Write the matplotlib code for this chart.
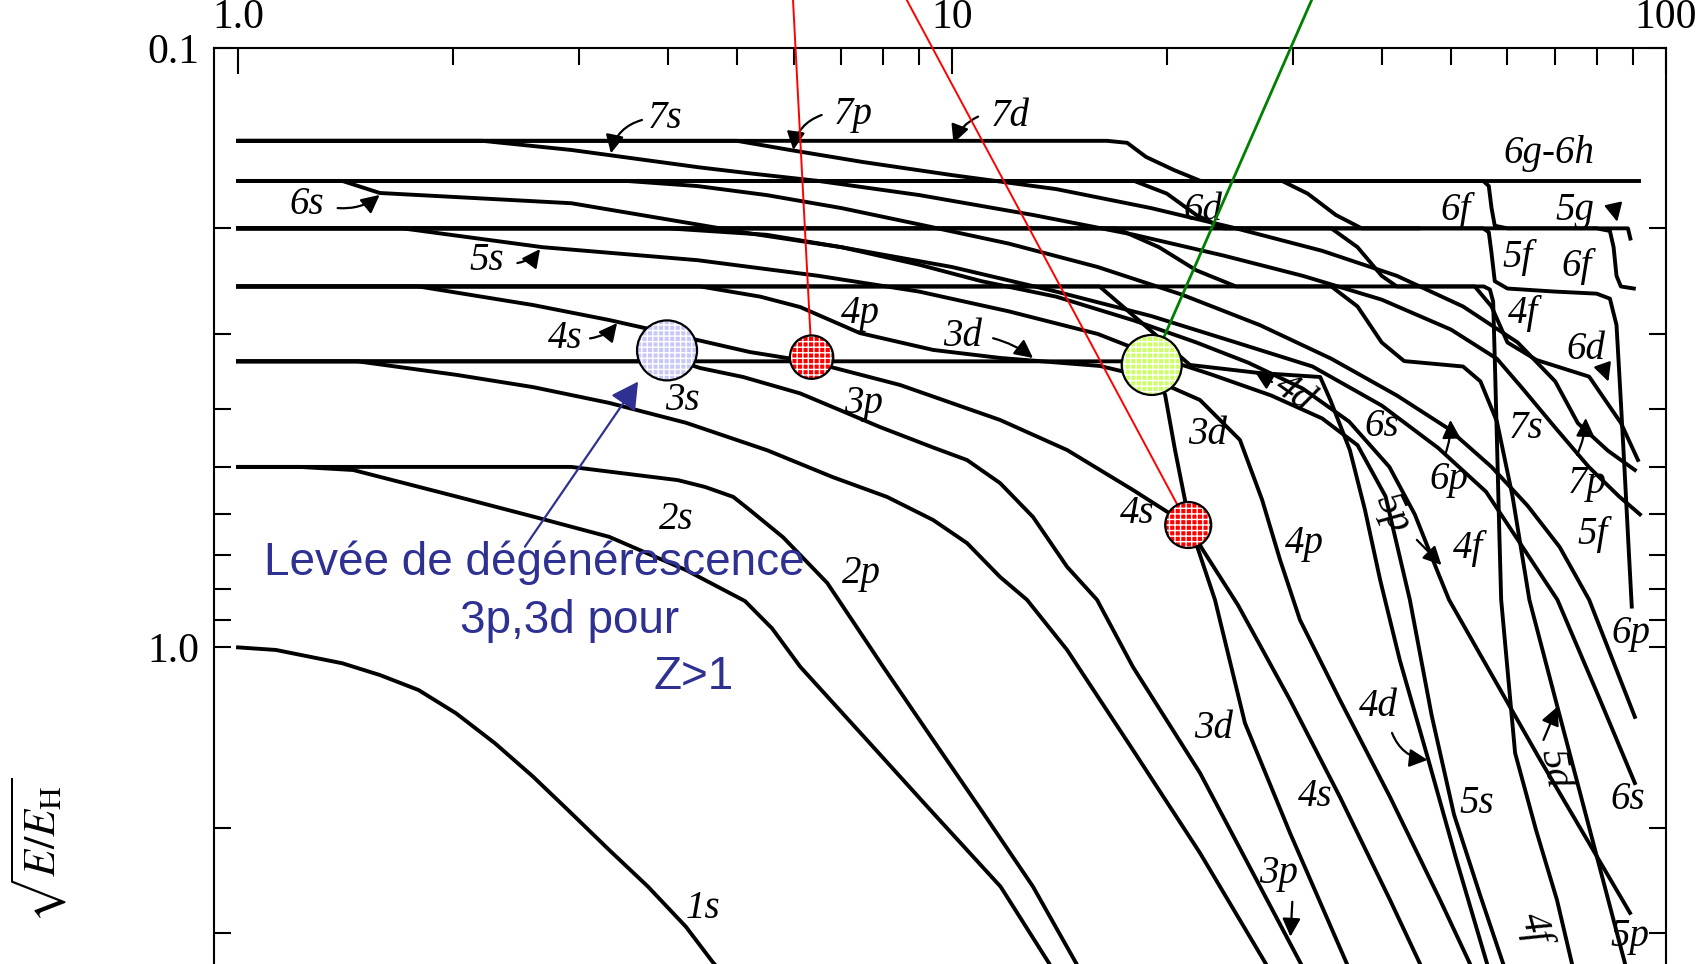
import matplotlib
matplotlib.use("Agg")
import matplotlib.pyplot as plt
from matplotlib.ticker import FixedLocator, FixedFormatter, NullFormatter

plt.rcParams['font.family'] = 'serif'
plt.rcParams['font.serif'] = ['Liberation Serif', 'DejaVu Serif']
plt.rcParams['mathtext.fontset'] = 'stix'
plt.rcParams['hatch.linewidth'] = 1.0

# nuclear charge Z and sqrt(E/E_H)
z_1s = [1.0, 1.13, 1.4, 1.58, 1.79, 2.02, 2.29, 2.59, 2.93, 3.31, 3.75, 4.24, 4.62, 5.0]
v_1s = [1.0, 1.01, 1.063, 1.112, 1.178, 1.288, 1.445, 1.643, 1.891, 2.177, 2.505, 2.924, 3.346, 3.73]

z_2s = [1.0, 1.22, 1.45, 2.02, 2.59, 3.31, 4.24, 5.13, 5.6, 6.13, 7.6, 9.41, 11.7, 13.7, 14.5]
v_2s = [0.5, 0.5, 0.506, 0.56, 0.605, 0.654, 0.743, 0.837, 0.93, 1.077, 1.427, 1.889, 2.507, 3.374, 3.8]
z_2p = [1.0, 2.93, 4.13, 4.51, 4.94, 5.21, 5.8, 6.69, 8.01, 9.41, 11.06, 12.99, 14.95, 15.8]
v_2p = [0.5, 0.5, 0.526, 0.54, 0.561, 0.59, 0.655, 0.781, 1.077, 1.427, 1.889, 2.507, 3.374, 3.8]

z_3s = [1.0, 1.47, 2.02, 2.59, 3.31, 4.24, 5.51, 6.81, 8.11, 9.41, 10.5, 11.68, 12.74, 14.5, 17.93, 22.26, 27.54, 29.2]
v_3s = [0.3333, 0.3333, 0.351, 0.368, 0.391, 0.422, 0.469, 0.52, 0.561, 0.613, 0.67, 0.763, 0.833, 1.01, 1.483, 2.203, 3.374, 3.8]
z_3p = [1.0, 3.78, 4.24, 4.44, 5.1, 6.13, 6.97, 7.93, 9.41, 10.5, 11.68, 12.99, 14.5, 15.97, 17.93, 22.26, 30.83, 32.5]
v_3p = [0.3333, 0.3333, 0.336, 0.342, 0.354, 0.377, 0.402, 0.429, 0.464, 0.487, 0.532, 0.606, 0.734, 0.833, 1.078, 1.62, 3.374, 3.8]
z_3d = [1.0, 17.5, 18.95, 19.89, 20.54, 21.55, 23.36, 25.73, 29.76, 35.76, 37.4]
v_3d = [0.3333, 0.3333, 0.337, 0.379, 0.469, 0.625, 0.833, 1.337, 2.04, 3.374, 3.8]

z_4s = [1.0, 1.79, 2.59, 3.31, 3.99, 5.21, 6.35, 8.46, 11.68, 14.5, 17.93, 21.41, 22.47, 25.16, 29.76, 34.96, 41.09, 45.27, 47.4]
v_4s = [0.25, 0.25, 0.2685, 0.2844, 0.299, 0.3216, 0.334, 0.365, 0.4175, 0.4686, 0.5463, 0.625, 0.688, 0.85, 1.224, 1.777, 2.639, 3.374, 3.8]
z_4p = [1.0, 4.44, 5.39, 6.13, 7.43, 9.41, 11.68, 16.12, 18.95, 22.26, 25.32, 27.2, 28.82, 30.73, 34.96, 41.09, 48.29, 53.19, 55.7]
v_4p = [0.25, 0.25, 0.26, 0.2706, 0.299, 0.319, 0.329, 0.3393, 0.3553, 0.3867, 0.4508, 0.5676, 0.7148, 0.9001, 1.224, 1.777, 2.639, 3.374, 3.8]
z_4d = [1.0, 16.1, 18.95, 21.55, 26.9, 32.8, 33.9, 36.1, 37.9, 39.8, 42.4, 46.5, 50.9, 56.2, 57.9]
v_4d = [0.25, 0.25, 0.2955, 0.338, 0.3485, 0.354, 0.387, 0.469, 0.59, 0.772, 1.05, 1.541, 2.262, 3.374, 3.8]
z_4f = [1.0, 55.6, 56.7, 57.3, 57.6, 58.0, 58.4, 58.8, 61.5, 65.8, 70.4, 73.9, 75.6]
v_4f = [0.25, 0.25, 0.253, 0.265, 0.33, 0.45, 0.62, 0.833, 1.5, 2.017, 2.639, 3.374, 3.8]

z_5s = [1.0, 1.7, 2.67, 4.4, 6.5, 9.0, 12.0, 16.0, 19.0, 23.0, 28.0, 33.0, 37.0, 40.5, 43.8, 47.0, 50.5, 55.0, 59.2, 61.3]
v_5s = [0.2, 0.2, 0.215, 0.226, 0.24, 0.255, 0.275, 0.30, 0.325, 0.35, 0.38, 0.415, 0.46, 0.56, 0.833, 1.3, 1.9, 2.6, 3.374, 3.8]
z_5p = [1.0, 4.0, 5.5, 7.0, 9.0, 11.0, 14.0, 18.0, 22.0, 26.0, 31.0, 36.0, 41.0, 44.5, 47.8, 49.7, 66.7, 89.1]
v_5p = [0.2, 0.2, 0.205, 0.215, 0.23, 0.245, 0.26, 0.285, 0.31, 0.335, 0.37, 0.42, 0.5, 0.6, 0.743, 0.833, 1.541, 2.773]
z_5d = [1.0, 17.0, 19.5, 22.0, 25.0, 34.0, 37.0, 40.0, 43.0, 52.0, 55.0, 58.0, 61.0, 64.4, 70.5, 87.7, 90.0]
v_5d = [0.2, 0.2, 0.215, 0.235, 0.25, 0.25, 0.27, 0.31, 0.333, 0.34, 0.36, 0.42, 0.56, 0.833, 1.257, 3.374, 3.8]
z_5f = [1.0, 55.5, 56.5, 57.0, 57.6, 60.0, 70.0, 80.0, 83.5, 85.3, 86.3, 87.5, 88.8, 89.6]
v_5f = [0.2, 0.2, 0.203, 0.22, 0.245, 0.252, 0.255, 0.257, 0.262, 0.29, 0.37, 0.5, 0.7, 0.855]
z_5g = [1.0, 88.5, 89.2]
v_5g = [0.2, 0.2, 0.208]

z_6s = [1.0, 1.4, 1.58, 2.93, 4.44, 5.21, 7.0, 10.0, 14.0, 19.0, 25.0, 32.0, 40.0, 48.0, 56.0, 63.0, 70.5, 80.9, 90.5]
v_6s = [0.1667, 0.1667, 0.1746, 0.1816, 0.1974, 0.2039, 0.215, 0.232, 0.255, 0.28, 0.31, 0.34, 0.395, 0.465, 0.55, 0.68, 0.833, 1.224, 1.684]
z_6p = [1.0, 3.5, 4.4, 5.5, 7.0, 9.0, 12.0, 16.0, 21.0, 27.0, 34.0, 42.0, 49.5, 57.0, 64.0, 71.0, 78.1, 90.5]
v_6p = [0.1667, 0.1667, 0.17, 0.176, 0.185, 0.197, 0.212, 0.232, 0.258, 0.29, 0.33, 0.38, 0.431, 0.5, 0.58, 0.68, 0.833, 1.306]
z_6d = [1.0, 18.0, 20.0, 22.0, 24.0, 34.0, 37.0, 40.0, 42.0, 54.0, 57.0, 60.0, 65.9, 78.1, 86.5, 91.4]
v_6d = [0.1667, 0.1667, 0.175, 0.19, 0.2, 0.2, 0.215, 0.24, 0.25, 0.25, 0.27, 0.31, 0.3316, 0.3535, 0.4222, 0.4868]
z_6f = [1.0, 55.5, 56.5, 57.0, 57.6, 60.0, 80.0, 83.5, 84.5, 85.3, 86.5, 90.2]
v_6f = [0.1667, 0.1667, 0.17, 0.185, 0.198, 0.2, 0.2, 0.202, 0.215, 0.24, 0.25, 0.252]
z_6gh = [1.0, 91.7]
v_6gh = [0.1667, 0.1667]

z_7s = [1.0, 2.2, 2.93, 4.44, 5.21, 6.5, 9.0, 13.0, 18.0, 24.0, 31.0, 40.0, 50.0, 58.0, 63.0, 70.0, 78.0, 86.0, 92.0]
v_7s = [0.1429, 0.1429, 0.148, 0.1583, 0.1619, 0.1667, 0.176, 0.19, 0.205, 0.222, 0.24, 0.263, 0.295, 0.33, 0.37, 0.43, 0.5, 0.56, 0.6]
z_7p = [1.0, 5.0, 5.93, 7.5, 10.0, 14.0, 19.0, 25.0, 33.0, 42.0, 52.0, 62.0, 70.0, 75.3, 83.0, 90.5]
v_7p = [0.1429, 0.1429, 0.148, 0.155, 0.163, 0.172, 0.185, 0.2, 0.218, 0.24, 0.27, 0.31, 0.36, 0.4227, 0.47, 0.506]
z_7d = [1.0, 16.5, 17.6, 18.7, 20.5, 22.3, 29.0, 31.5, 34.5, 37.5, 45.0]
v_7d = [0.1429, 0.1429, 0.144, 0.152, 0.16, 0.1667, 0.1667, 0.175, 0.19, 0.2, 0.2]

curves = [(z_1s, v_1s), (z_2s, v_2s), (z_2p, v_2p), (z_3s, v_3s), (z_3p, v_3p),
          (z_3d, v_3d), (z_4s, v_4s), (z_4p, v_4p), (z_4d, v_4d), (z_4f, v_4f),
          (z_5s, v_5s), (z_5p, v_5p), (z_5d, v_5d), (z_5f, v_5f), (z_5g, v_5g),
          (z_6s, v_6s), (z_6p, v_6p), (z_6d, v_6d), (z_6f, v_6f), (z_6gh, v_6gh),
          (z_7s, v_7s), (z_7p, v_7p), (z_7d, v_7d)]

# highlighted crossings
lav_z, lav_v = [3.99], [0.3196]
green_z, green_v = [19.05], [0.338]
red_z, red_v = [6.36, 21.43], [0.328, 0.625]

# pointer lines coming from above the frame
red1_z, red1_v = [5.99, 6.36], [0.0832, 0.328]
red2_z, red2_v = [8.645, 21.43], [0.0832, 0.625]
green_line_z, green_line_v = [31.91, 19.05], [0.0832, 0.338]

fig = plt.figure(figsize=(17.01, 9.64), dpi=100)
ax = fig.add_axes([0.12599, -0.04595, 0.85332, 0.99627])
ax.set_xscale('log')
ax.set_yscale('log')
ax.set_xlim(0.9264, 100)
ax.set_ylim(4.0, 0.1)

for z, v in curves:
    ax.plot(z, v, color='black', lw=2.8, solid_joinstyle='round', zorder=2)

# labels on the curves
labels = [
    ("7s", 3.96, 0.131, 0), ("6s", 1.249, 0.1828, 0), ("5s", 2.233, 0.2259, 0),
    ("4s", 2.872, 0.305, 0), ("3s", 4.188, 0.3867, 0), ("2s", 4.107, 0.612, 0),
    ("1s", 4.479, 2.724, 0), ("7p", 7.275, 0.1294, 0), ("7d", 12.06, 0.1302, 0),
    ("4p", 7.434, 0.2772, 0), ("3d", 10.36, 0.3032, 0), ("3p", 7.513, 0.3916, 0),
    ("2p", 7.475, 0.7523, 0), ("4s", 18.15, 0.5974, 0), ("3d", 22.84, 0.442, 0),
    ("4d", 30.15, 0.3768, -35), ("6s", 40.05, 0.4284, 0), ("6p", 49.65, 0.5256, 0),
    ("7s", 63.7, 0.431, 0), ("7p", 77.7, 0.5324, 0), ("4f", 63.0, 0.2772, 0),
    ("6d", 77.25, 0.319, 0), ("5f", 61.9, 0.2241, 0), ("6f", 75.1, 0.2317, 0),
    ("4p", 31.2, 0.6704, 0), ("5p", 41.4, 0.5974, -65), ("4f", 52.8, 0.6833, 0),
    ("5f", 79.0, 0.6494, 0), ("6p", 89.4, 0.9473, 0), ("6g-6h", 68.6, 0.1499, 0),
    ("6d", 22.45, 0.1864, 0), ("6f", 50.8, 0.1864, 0), ("5g", 74.6, 0.1864, 0),
    ("3d", 23.23, 1.364, 0), ("4d", 39.58, 1.256, 0), ("4s", 32.26, 1.775, 0),
    ("5s", 54.35, 1.82, 0), ("5d", 69.7, 1.591, -80), ("6s", 88.5, 1.797, 0),
    ("3p", 28.65, 2.381, 0), ("4f", 65.5, 2.942, -75), ("5p", 88.99, 3.038, 0),
]
for txt, z, v, rot in labels:
    ax.text(z, v, txt, fontsize=28, style='italic', ha='center', va='center',
            rotation=rot, zorder=3)

arrows = [
    ((3.68, 0.1319), (3.33, 0.1499), 0.3), ((1.379, 0.185), (1.579, 0.1759), 0.2),
    ((2.462, 0.2285), (2.649, 0.2165), 0.2), ((3.112, 0.3052), (3.396, 0.2877), 0.2),
    ((6.57, 0.1294), (5.997, 0.148), 0.3), ((10.88, 0.1302), (10.05, 0.1442), 0.2),
    ((11.42, 0.305), (12.99, 0.3291), -0.1), ((28.08, 0.3608), (26.58, 0.3472), 0.0),
    ((49.06, 0.4775), (49.93, 0.4175), 0.1), ((75.1, 0.4775), (77.25, 0.4144), 0.1),
    ((81.7, 0.3401), (83.1, 0.3603), 0.0), ((82.7, 0.184), (85.5, 0.195), -0.2),
    ((44.8, 0.6618), (48.5, 0.7288), 0.0), ((41.35, 1.389), (46.38, 1.541), 0.3),
    ((67.4, 1.427), (70.5, 1.256), 0.0), ((29.98, 2.657), (29.8, 3.038), 0.0),
]
for start, end, rad in arrows:
    ax.annotate('', xy=end, xytext=start,
                arrowprops=dict(arrowstyle='-|>,head_length=0.5,head_width=0.25',
                                color='black', lw=1.6, mutation_scale=22,
                                shrinkA=0, shrinkB=0,
                                connectionstyle='arc3,rad=%s' % rad))

# pointer lines and coloured circles
ax.plot(red1_z, red1_v, color='red', lw=1.4, clip_on=False, zorder=4)
ax.plot(red2_z, red2_v, color='red', lw=1.4, clip_on=False, zorder=4)
ax.plot(green_line_z, green_line_v, color='green', lw=2.0, clip_on=False, zorder=4)

def dotted_circle(z, v, size, color):
    ax.scatter(z, v, s=size, facecolor=color, edgecolor='none', zorder=5)
    ax.scatter(z, v, s=size, facecolor='none', edgecolor='white', hatch='+++',
               linewidth=0, zorder=6)
    ax.scatter(z, v, s=size, facecolor='none', edgecolor='black', linewidth=1.6, zorder=7)

dotted_circle(lav_z, lav_v, 1866, '#c8c8f8')
dotted_circle(green_z, green_v, 1866, '#ccff66')
dotted_circle(red_z[:1], red_v[:1], 975, '#ff0000')
dotted_circle(red_z[1:], red_v[1:], 1097, '#ff0000')

# blue annotation
blue = '#2e3192'
ax.annotate('', xy=(3.634, 0.3603), xytext=(2.523, 0.6793),
            arrowprops=dict(arrowstyle='-|>,head_length=0.55,head_width=0.3',
                            color=blue, lw=1.6, mutation_scale=30,
                            shrinkA=0, shrinkB=0), zorder=8)
fig.text(0.155, 0.4035, 'Levée de dégénérescence', color=blue, fontsize=33,
         family='Liberation Sans', va='baseline', ha='left')
fig.text(0.2704, 0.3430, '3p,3d pour', color=blue, fontsize=33,
         family='Liberation Sans', va='baseline', ha='left')
fig.text(0.3839, 0.2850, 'Z>1', color=blue, fontsize=33,
         family='Liberation Sans', va='baseline', ha='left')

# axes styling
ax.xaxis.set_major_locator(FixedLocator([1, 10, 100]))
ax.xaxis.set_major_formatter(FixedFormatter(['1.0', '10', '100']))
ax.xaxis.set_minor_locator(FixedLocator([2, 3, 4, 5, 6, 7, 8, 9,
                                         20, 30, 40, 50, 60, 70, 80, 90]))
ax.xaxis.set_minor_formatter(NullFormatter())
ax.tick_params(axis='x', which='both', top=True, bottom=False, labeltop=True,
               labelbottom=False, direction='in', width=1.5, labelsize=30)
ax.tick_params(axis='x', which='major', length=19, pad=8)
ax.tick_params(axis='x', which='minor', length=12)

ax.yaxis.set_major_locator(FixedLocator([0.1, 1.0]))
ax.yaxis.set_major_formatter(FixedFormatter(['0.1', '1.0']))
ax.yaxis.set_minor_locator(FixedLocator([0.2, 0.3, 0.4, 0.5, 0.6, 0.7, 0.8, 0.9, 2, 3]))
ax.yaxis.set_minor_formatter(NullFormatter())
ax.tick_params(axis='y', which='both', left=True, right=True, direction='in',
               length=12, width=1.5, labelsize=30, pad=11)
for sp in ax.spines.values():
    sp.set_linewidth(1.5)

fig.text(0.0229, 0.118, r'$\sqrt{E/E_\mathrm{H}}$', rotation=90, fontsize=32,
         ha='center', va='center')

fig.savefig('out.png', dpi=100)
